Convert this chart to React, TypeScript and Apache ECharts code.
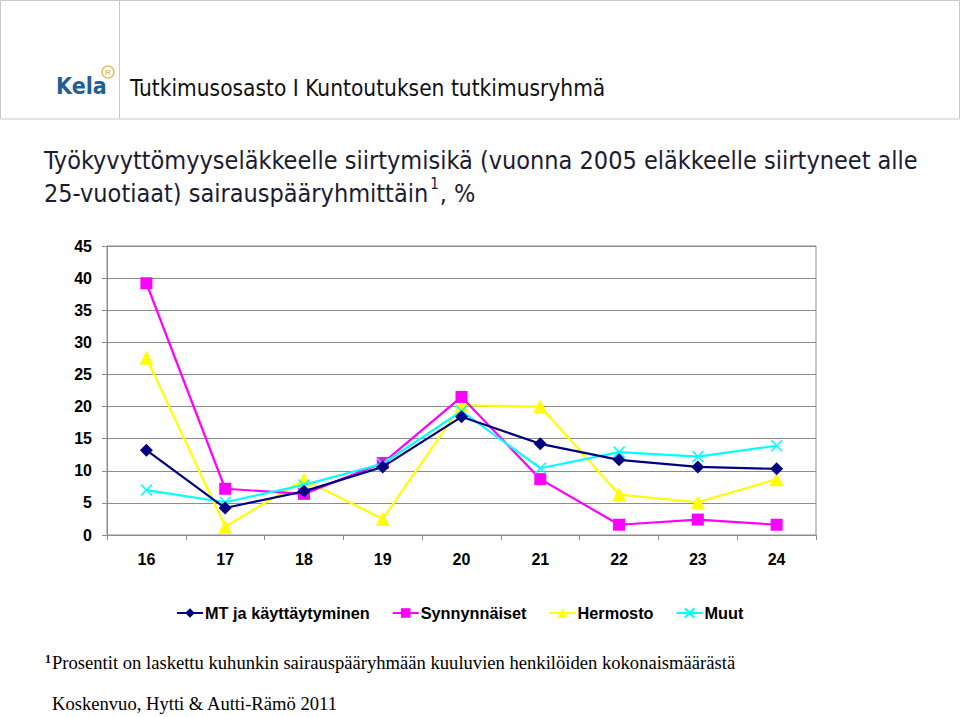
import React, { useEffect, useRef } from "react";
import * as echarts from "echarts";

const categories = ["16", "17", "18", "19", "20", "21", "22", "23", "24"];
const mtValues = [13.2, 4.2, 6.8, 10.6, 18.4, 14.2, 11.7, 10.6, 10.3];
const synnynnaisetValues = [39.2, 7.2, 6.4, 11.2, 21.5, 8.7, 1.6, 2.4, 1.6];
const hermostoValues = [27.6, 1.3, 8.6, 2.5, 20.2, 20.0, 6.3, 5.1, 8.7];
const muutValues = [7.0, 5.1, 7.8, 11.1, 19.3, 10.4, 12.9, 12.2, 13.9];
const seriesNames = ["MT ja käyttäytyminen", "Synnynnäiset", "Hermosto", "Muut"];
const yTicks = { min: 0, max: 45, interval: 5 };

const titleLine1 = "Työkyvyttömyyseläkkeelle siirtymisikä (vuonna 2005 eläkkeelle siirtyneet alle";
const titleLine2 = "25-vuotiaat) sairauspääryhmittäin";
const headerText = "Tutkimusosasto I Kuntoutuksen tutkimusryhmä";
const footnote = "Prosentit on laskettu kuhunkin sairauspääryhmään kuuluvien henkilöiden kokonaismäärästä";
const source = "Koskenvuo, Hytti & Autti-Rämö 2011";

export default function App() {
  const ref = useRef<HTMLDivElement>(null);
  useEffect(() => {
    if (!ref.current) return;
    const chart = echarts.init(ref.current, null, { renderer: "svg" });
    const mk = (name: string, data: number[], color: string, symbol: string, size: number, extra: any = {}) => ({
      name,
      type: "line",
      data,
      symbol,
      symbolSize: size,
      lineStyle: { color, width: 2.2 },
      itemStyle: { color, ...(extra.itemStyle || {}) },
      z: extra.z || 2,
    });
    const titleFont = "'DejaVu Sans Condensed', sans-serif";
    chart.setOption({
      animation: false,
      backgroundColor: "#fff",
      grid: { left: 107, right: 144, top: 246, bottom: 182, show: true, borderColor: "#8c8c8c", borderWidth: 1 },
      xAxis: {
        type: "category",
        data: categories,
        boundaryGap: true,
        axisLine: { lineStyle: { color: "#8c8c8c", width: 1 } },
        axisTick: { show: true, length: 5, lineStyle: { color: "#8c8c8c" } },
        axisLabel: { color: "#000", fontFamily: "Arial, 'Liberation Sans', sans-serif", fontWeight: "bold", fontSize: 16, margin: 16 },
      },
      yAxis: {
        type: "value",
        min: yTicks.min,
        max: yTicks.max,
        interval: yTicks.interval,
        axisLine: { show: true, lineStyle: { color: "#8c8c8c", width: 1 } },
        axisTick: { show: true, length: 5, lineStyle: { color: "#8c8c8c" } },
        splitLine: { lineStyle: { color: "#8c8c8c", width: 1 } },
        axisLabel: { color: "#000", fontFamily: "Arial, 'Liberation Sans', sans-serif", fontWeight: "bold", fontSize: 16, margin: 15 },
      },
      legend: {
        left: 171,
        top: 600,
        itemWidth: 26,
        itemHeight: 12,
        itemGap: 22,
        data: seriesNames,
        textStyle: { color: "#000", fontFamily: "Arial, 'Liberation Sans', sans-serif", fontWeight: "bold", fontSize: 16.3, padding: [0, 0, 0, -3] },
      },
      series: [
        mk(seriesNames[0], mtValues, "#000080", "diamond", 13, { z: 5 }),
        mk(seriesNames[1], synnynnaisetValues, "#ff00ff", "rect", 12, { z: 3 }),
        mk(seriesNames[2], hermostoValues, "#ffff00", "triangle", 14, { z: 2 }),
        mk(seriesNames[3], muutValues, "#00ffff", "path://M0,0L10,10M10,0L0,10", 11, {
          z: 4,
          itemStyle: { borderColor: "#00ffff", borderWidth: 1.5 },
        }),
      ],
      graphic: [
        { type: "rect", shape: { x: 0.5, y: 0.5, width: 959, height: 118.5 }, style: { fill: "none", stroke: "#c8c8c8", lineWidth: 1 } },
        { type: "line", shape: { x1: 119.5, y1: 0, x2: 119.5, y2: 119 }, style: { stroke: "#c8c8c8", lineWidth: 1 } },
        { type: "text", x: 56, y: 74, style: { text: "Kela", fill: "#1f5f96", font: "bold 23px 'DejaVu Sans Condensed', 'Open Sans', sans-serif" } },
        { type: "circle", shape: { cx: 108, cy: 72, r: 6 }, style: { fill: "none", stroke: "#e5bf6a", lineWidth: 1.5 } },
        { type: "text", x: 108, y: 72, style: { text: "R", fill: "#e5bf6a", font: "bold 8px sans-serif", align: "center", verticalAlign: "middle" } },
        { type: "text", x: 130, y: 76, style: { text: headerText, fill: "#111", font: "22.5px 'DejaVu Sans Condensed', 'Liberation Sans Narrow', sans-serif" } },
        { type: "text", x: 44, y: 148, style: { text: titleLine1, fill: "#1c1c30", font: `25px ${titleFont}` } },
        {
          type: "text",
          x: 44,
          y: 176,
          style: {
            text: `{a|${titleLine2}}{s|1}{a|, %}`,
            rich: {
              a: { fill: "#1c1c30", font: `25px ${titleFont}`, lineHeight: 30, verticalAlign: "bottom" },
              s: { fill: "#1c1c30", font: `15px ${titleFont}`, lineHeight: 30, verticalAlign: "top", padding: [0, 1, 0, 2] },
            },
          },
        },
        { type: "text", x: 45, y: 653, style: { text: "1", fill: "#000", font: "bold 12px 'Liberation Serif', serif" } },
        { type: "text", x: 52, y: 653, style: { text: footnote, fill: "#000", font: "18.6px 'Liberation Serif', 'Times New Roman', serif" } },
        { type: "text", x: 52, y: 694, style: { text: source, fill: "#000", font: "18.6px 'Liberation Serif', 'Times New Roman', serif" } },
      ],
    });
    return () => chart.dispose();
  }, []);
  return <div ref={ref} style={{ position: "fixed", left: 0, top: 0, width: 960, height: 717 }} />;
}
